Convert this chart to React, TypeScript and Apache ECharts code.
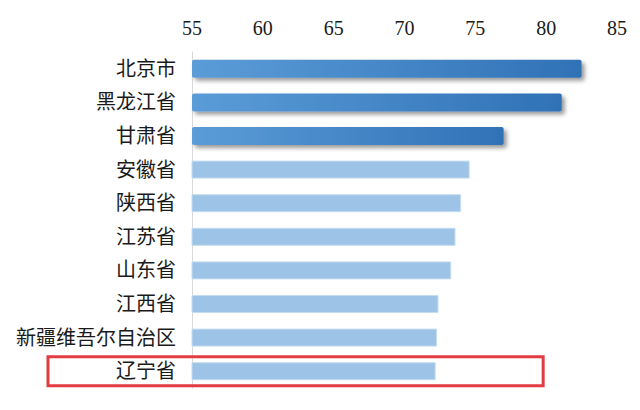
import { useEffect, useRef } from 'react';
import * as echarts from 'echarts';

// provinces, top to bottom
const provinces = ['北京市', '黑龙江省', '甘肃省', '安徽省', '陕西省', '江苏省', '山东省', '江西省', '新疆维吾尔自治区', '辽宁省'];
const scores = [82.5, 81.1, 77.0, 74.6, 74.0, 73.6, 73.3, 72.4, 72.3, 72.2];
// how many of the leading bars are highlighted in dark blue
const highlightCount = 3;
const highlighted = '辽宁省';

const FONT = "'Liberation Serif', 'Noto Sans CJK SC', serif";

export default function App() {
    const chartRef = useRef<HTMLDivElement>(null);

    useEffect(() => {
        if (!chartRef.current) return;
        const chart = echarts.init(chartRef.current, undefined, { renderer: 'svg' });

        const darkStyle = {
            color: new echarts.graphic.LinearGradient(0, 0, 1, 0, [
                { offset: 0, color: '#5B9CD8' },
                { offset: 1, color: '#2F72B6' }
            ]),
            borderRadius: 2,
            shadowColor: 'rgba(0,0,0,0.4)',
            shadowBlur: 4,
            shadowOffsetX: 3,
            shadowOffsetY: 3
        };
        const lightStyle = {
            color: '#9DC3E6',
            borderColor: '#C6DDF1',
            borderWidth: 1
        };

        chart.setOption({
            animation: false,
            grid: { left: 192, right: 23, top: 52, bottom: 22 },
            xAxis: {
                type: 'value',
                position: 'top',
                min: 55,
                max: 85,
                interval: 5,
                axisLine: { show: false },
                axisTick: { show: false },
                splitLine: { show: false },
                axisLabel: { fontFamily: FONT, fontSize: 20, color: '#1a1a1a', margin: 14 }
            },
            yAxis: {
                type: 'category',
                inverse: true,
                data: provinces,
                axisLine: { show: true, lineStyle: { color: '#D9D9D9', width: 1 } },
                axisTick: { show: false },
                axisLabel: { fontFamily: FONT, fontSize: 20, color: '#1a1a1a', margin: 16 }
            },
            series: [
                {
                    type: 'bar',
                    barWidth: 18,
                    data: scores.map((v, i) => ({
                        value: v,
                        itemStyle: i < highlightCount ? darkStyle : lightStyle
                    }))
                }
            ]
        });

        // red frame around the highlighted row
        const cy = chart.convertToPixel({ yAxisIndex: 0 }, highlighted) as number;
        const xr = chart.convertToPixel({ xAxisIndex: 0 }, 80) as number;
        chart.setOption({
            graphic: [
                {
                    type: 'rect',
                    shape: { x: 48, y: cy - 14.5, width: xr - 3 - 48, height: 29 },
                    style: { fill: 'none', stroke: '#E23B40', lineWidth: 3 },
                    z: 10
                }
            ]
        });

        return () => {
            chart.dispose();
        };
    }, []);

    return (
        <div
            ref={chartRef}
            style={{ position: 'fixed', left: 0, top: 0, width: '640px', height: '410px', background: '#fff' }}
        />
    );
}
